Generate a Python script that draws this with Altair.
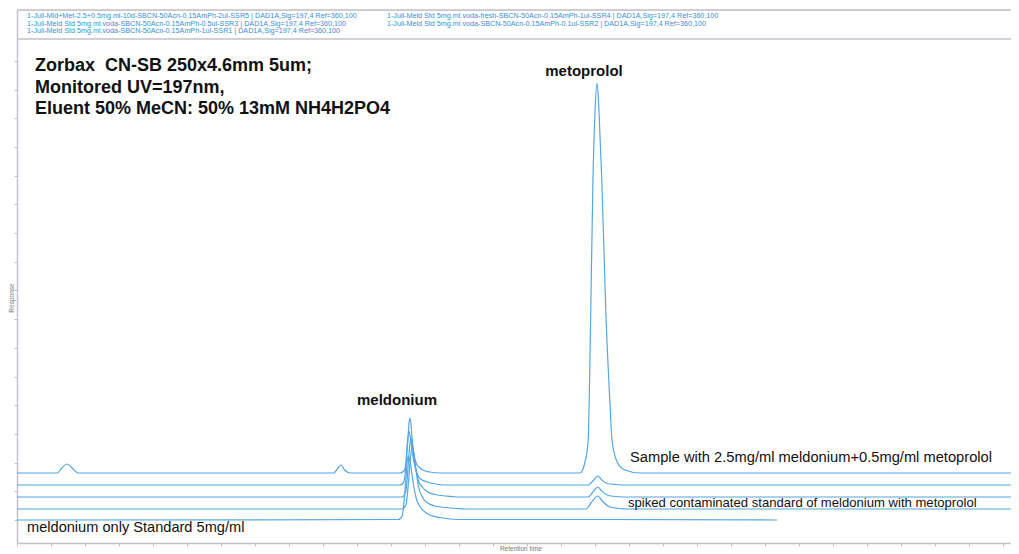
import altair as alt
import pandas as pd

# ---------------- data (retention time in min, response in arbitrary units) ----------------
trace_names = ["SSR5 sample", "SSR3", "SSR1", "SSR4", "SSR2 standard"]

t1_rt = [0, 0.59, 0.66, 0.735, 0.81, 0.90, 4.66, 4.71, 4.765, 4.82, 4.90, 5.63, 5.69, 5.72,
         5.75, 5.765, 5.78, 5.795, 5.81, 5.84, 5.87, 5.91, 5.97, 6.07, 6.22,
         8.28, 8.35, 8.40, 8.43, 8.47, 8.50, 8.53, 8.56, 8.60, 8.66, 8.72, 8.75, 8.82, 8.94, 9.16, 14.62]
t1_resp = [70, 70, 75, 79, 75, 70, 70, 74, 78, 73, 70, 70, 72, 80,
           105, 120, 125, 118, 105, 88, 80, 76, 73, 71, 70,
           70, 80, 103, 200, 363, 430, 460, 430, 363, 230, 140, 103, 82, 73, 70, 70]

t2_rt = [0, 5.63, 5.68, 5.71, 5.735, 5.765, 5.79, 5.81, 5.84, 5.87, 5.91, 5.96, 6.04, 6.15, 6.30,
         8.40, 8.47, 8.54, 8.60, 8.68, 8.80, 9.0, 14.62]
t2_resp = [58, 58, 60, 70, 95, 112, 103, 92, 80, 72, 66, 63, 61, 59, 58,
           58, 62, 67, 63, 59.5, 58.5, 58, 58]

t3_rt = [0, 5.66, 5.72, 5.75, 5.78, 5.794, 5.81, 5.84, 5.87, 5.90, 5.96, 6.04, 6.15, 6.30, 6.47,
         8.40, 8.47, 8.54, 8.60, 8.68, 8.80, 9.0, 14.62]
t3_resp = [46, 46, 52, 75, 100, 105, 100, 85, 72, 63, 56, 51, 48.5, 47, 46,
           46, 51, 56, 52, 48, 46.5, 46, 46]

t4_rt = [0, 5.66, 5.72, 5.75, 5.78, 5.81, 5.84, 5.87, 5.90, 5.96, 6.04, 6.15, 6.30, 6.47, 6.6,
         8.37, 8.44, 8.54, 8.62, 8.72, 8.85, 9.0, 14.62]
t4_resp = [34, 34, 38, 55, 80, 96, 88, 72, 58, 46, 40, 37, 35.5, 34.5, 34,
           34, 40, 47, 41, 36, 34.5, 34, 34]

t5_rt = [0, 5.60, 5.66, 5.69, 5.72, 5.75, 5.78, 5.81, 5.84, 5.87, 5.93, 6.00, 6.07, 6.22, 6.37,
         6.6, 8.5, 11.18]
t5_resp = [23, 23.5, 26, 40, 65, 87, 82, 68, 55, 45, 36, 31, 28, 25.5, 24,
           23.5, 23.5, 23]

x_tick_values = [i * 0.5 for i in range(30)]
y_tick_values = [23, 51.7, 80.4, 109.1, 137.8, 166.5, 195.2, 223.9, 252.6, 281.3, 310,
                 338.7, 367.4, 396.1, 424.8, 453.5, 482.2]

legend_text = [
    "1-Juli-Mld+Met-2.5+0.5mg.ml-10d-SBCN-50Acn-0.15AmPh-2ul-SSR5 | DAD1A,Sig=197,4  Ref=360,100",
    "1-Juli-Meld Std 5mg.ml.voda-SBCN-50Acn-0.15AmPh-0.5ul-SSR3 | DAD1A,Sig=197,4  Ref=360,100",
    "1-Juli-Meld Std 5mg.ml.voda-SBCN-50Acn-0.15AmPh-1ul-SSR1 | DAD1A,Sig=197,4  Ref=360,100",
    "1-Juli-Meld Std 5mg.ml.voda-fresh-SBCN-50Acn-0.15AmPh-1ul-SSR4 | DAD1A,Sig=197,4  Ref=360,100",
    "1-Juli-Meld Std 5mg.ml.voda-SBCN-50Acn-0.15AmPh-0.1ul-SSR2 | DAD1A,Sig=197,4  Ref=360,100",
]
legend_rt = [0.147, 0.147, 0.147, 5.44, 5.44]
legend_resp = [527, 519.5, 511.8, 527, 519.5]

title_lines = ["Zorbax\u00a0 CN-SB 250x4.6mm 5um;", "Monitored UV=197nm,", "Eluent 50% MeCN: 50% 13mM NH4H2PO4"]
title_rt = [0.265, 0.265, 0.265]
title_resp = [472, 450, 429]

peak_labels = ["metoprolol", "meldonium"]
peak_rt = [8.338, 5.588]
peak_resp = [467, 138]

note_text = ["Sample with 2.5mg/ml meldonium+0.5mg/ml metoprolol",
             "spiked contaminated standard of meldonium with metoprolol",
             "meldonium only Standard 5mg/ml"]
note_rt = [9.015, 8.985, 0.147]
note_resp = [81, 36.5, 10.7]
note_size = [14.7, 13.1, 14.6]

axis_title_text = ["Response", "Retention time"]
axis_title_rt = [-0.07, 7.41]
axis_title_resp = [245, -6]
axis_title_angle = [270, 0]

frame_resp = [533, 504]

# ---------------- styling ----------------
XMAX = 14.618
YMAX = 533
LINE = "#55A6E3"
GRAY = "#C2C2CA"
FONT = "Liberation Sans"

rows = []
for name, rts, rs in zip(trace_names,
                         [t1_rt, t2_rt, t3_rt, t4_rt, t5_rt],
                         [t1_resp, t2_resp, t3_resp, t4_resp, t5_resp]):
    for a, b in zip(rts, rs):
        rows.append({"trace": name, "rt": a, "resp": b})
df = pd.DataFrame(rows)


def X():
    return alt.X("rt:Q", scale=alt.Scale(domain=[0, XMAX], nice=False, zero=False),
                 axis=alt.Axis(labels=False, title=None, grid=False, values=x_tick_values,
                               tickSize=3, tickColor=GRAY, domainColor=GRAY, domainWidth=1.5))


def Y():
    return alt.Y("resp:Q", scale=alt.Scale(domain=[0, YMAX], nice=False, zero=False),
                 axis=alt.Axis(labels=False, title=None, grid=False, values=y_tick_values,
                               tickSize=3, tickColor=GRAY, domainColor=GRAY, domainWidth=1.5))


lines = alt.Chart(df).mark_line(interpolate="monotone", color=LINE, strokeWidth=1.2).encode(
    x=X(), y=Y(), detail="trace:N")

frame = alt.Chart(pd.DataFrame({"resp": frame_resp})).mark_rule(color=GRAY, strokeWidth=1.5).encode(y=Y())

legend = alt.Chart(pd.DataFrame({"rt": legend_rt, "resp": legend_resp, "text": legend_text})).mark_text(
    align="left", baseline="middle", fontSize=7.2, font=FONT, color="#3A8FD6").encode(x=X(), y=Y(), text="text:N")

titles = alt.Chart(pd.DataFrame({"rt": title_rt, "resp": title_resp, "text": title_lines})).mark_text(
    align="left", baseline="alphabetic", fontSize=18, fontWeight="bold", font=FONT, color="#111111").encode(
    x=X(), y=Y(), text="text:N")

peaks = alt.Chart(pd.DataFrame({"rt": peak_rt, "resp": peak_resp, "text": peak_labels})).mark_text(
    align="center", baseline="alphabetic", fontSize=15, fontWeight="bold", font=FONT, color="#111111").encode(
    x=X(), y=Y(), text="text:N")

notes = alt.Chart(pd.DataFrame({"rt": note_rt, "resp": note_resp, "text": note_text, "size": note_size})).mark_text(
    align="left", baseline="alphabetic", font=FONT, color="#111111").encode(
    x=X(), y=Y(), text="text:N", size=alt.Size("size:Q", scale=None, legend=None))

axis_titles = alt.Chart(pd.DataFrame({"rt": axis_title_rt, "resp": axis_title_resp,
                                      "text": axis_title_text, "angle": axis_title_angle})).mark_text(
    align="center", baseline="middle", fontSize=6.5, font=FONT, color="#777777").encode(
    x=X(), y=Y(), text="text:N", angle=alt.Angle("angle:Q", scale=None))

chart = alt.layer(frame, lines, legend, titles, peaks, notes, axis_titles).properties(
    width=994, height=533,
    autosize=alt.AutoSizeParams(type="none"),
    padding={"left": 9, "top": 2, "right": 0, "bottom": 8},
).configure_view(stroke=None).configure(background="white")

chart.save("out.html", embed_options={"renderer": "svg", "actions": False})
